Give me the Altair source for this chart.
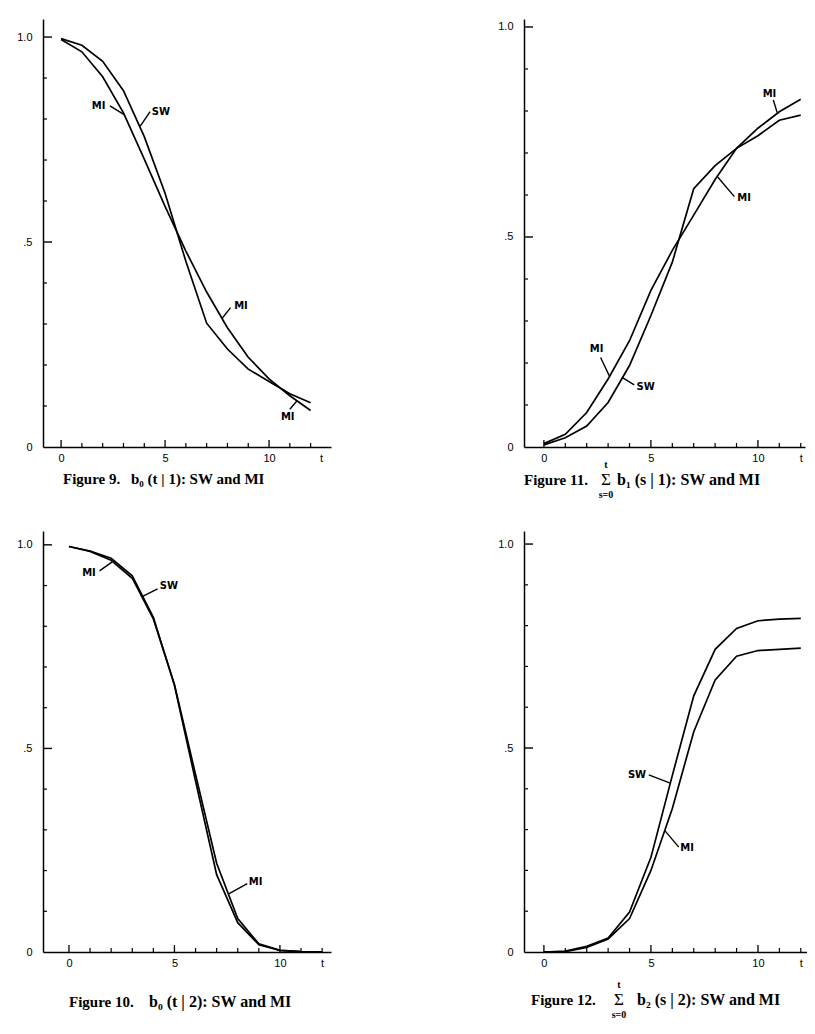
import altair as alt
import pandas as pd

T = list(range(13))

# Figure 9: b0(t|1)
F9_SW = [0.996, 0.980, 0.941, 0.869, 0.757, 0.619, 0.453, 0.302, 0.239, 0.190, 0.160, 0.130, 0.108]
F9_MI = [0.994, 0.964, 0.903, 0.815, 0.702, 0.587, 0.478, 0.378, 0.291, 0.219, 0.166, 0.125, 0.089]

# Figure 11: sum b1(s|1)
F11_SW = [0.005, 0.022, 0.050, 0.106, 0.194, 0.313, 0.440, 0.615, 0.670, 0.711, 0.741, 0.778, 0.790]
F11_MI = [0.008, 0.030, 0.082, 0.162, 0.253, 0.373, 0.468, 0.552, 0.637, 0.711, 0.759, 0.798, 0.828]

# Figure 10: b0(t|2)
F10_SW = [0.996, 0.985, 0.967, 0.924, 0.822, 0.655, 0.420, 0.190, 0.072, 0.018, 0.004, 0.001, 0.0]
F10_MI = [0.996, 0.984, 0.962, 0.918, 0.818, 0.657, 0.436, 0.218, 0.082, 0.020, 0.004, 0.001, 0.0]

# Figure 12: sum b2(s|2)
F12_SW = [0.0, 0.002, 0.014, 0.034, 0.098, 0.232, 0.433, 0.628, 0.742, 0.793, 0.812, 0.816, 0.818]
F12_MI = [0.0, 0.001, 0.011, 0.032, 0.082, 0.200, 0.352, 0.540, 0.667, 0.725, 0.739, 0.742, 0.745]

X_MAJOR = [0, 5, 10]
X_MINOR = [1, 2, 3, 4, 6, 7, 8, 9, 11, 12]
Y_MAJOR = [0.5, 1.0]
Y_MINOR = [0.1, 0.2, 0.3, 0.4, 0.6, 0.7, 0.8, 0.9]
Y_LABELS = [0, 0.5, 1.0]

# curve labels: (text, label t, label v, leader from t, v, leader to t, v)
F9_NOTES = [("MI", 1.8, 0.832, 2.35, 0.832, 3.05, 0.81),
            ("SW", 4.8, 0.818, 4.28, 0.818, 3.8, 0.782),
            ("MI", 8.65, 0.344, 8.15, 0.34, 7.75, 0.314),
            ("MI", 10.9, 0.073, 11.0, 0.092, 11.35, 0.113)]
F11_NOTES = [("MI", 10.54, 0.841, 10.72, 0.826, 10.9, 0.796),
             ("MI", 9.35, 0.592, 8.9, 0.596, 8.12, 0.643),
             ("MI", 2.46, 0.233, 2.65, 0.213, 3.05, 0.17),
             ("SW", 4.75, 0.143, 4.22, 0.148, 3.67, 0.165)]
F10_NOTES = [("MI", 0.95, 0.932, 1.45, 0.936, 2.05, 0.958),
             ("SW", 4.74, 0.898, 4.2, 0.892, 3.47, 0.873),
             ("MI", 8.85, 0.172, 8.45, 0.168, 7.55, 0.142)]
F12_NOTES = [("SW", 4.35, 0.434, 4.9, 0.434, 5.9, 0.414),
             ("MI", 6.69, 0.255, 6.3, 0.257, 5.66, 0.297)]

CAP_9 = ["Figure 9.", "b\u2080 (t | 1): SW and MI"]
CAP_10 = ["Figure 10.", "b\u2080 (t | 2): SW and MI"]
CAP_11 = ["Figure 11.", "b\u2081 (s | 1): SW and MI"]
CAP_12 = ["Figure 12.", "b\u2082 (s | 2): SW and MI"]
SIGMA = ["\u03a3", "t", "s=0"]

AX_FONT = "Liberation Sans"
CAP_FONT = "Liberation Serif"
ONE = pd.DataFrame({"a": [0]})


def txt(s, x, y, size=15, align="left", weight="bold", font=CAP_FONT):
    return alt.Chart(ONE).mark_text(
        font=font, fontSize=size, fontWeight=weight, align=align,
        baseline="middle", color="black"
    ).encode(x=alt.value(x), y=alt.value(y), text=alt.value(s))


def sigma(x, y):
    return [txt(SIGMA[0], x, y, size=17, align="center", weight="normal"),
            txt(SIGMA[1], x, y - 15, size=10, align="center"),
            txt(SIGMA[2], x, y + 15, size=10, align="center")]


def panel(sw, mi, notes, w, h, xdom, ydom, xlab, extra):
    xs = alt.Scale(domain=xdom, nice=False, zero=False)
    ys = alt.Scale(domain=ydom, nice=False, zero=False)
    xaxis = alt.Axis(values=xlab, labelExpr="datum.value >= 12 ? 't' : datum.label",
                     ticks=False, grid=False, title=None, domainColor="black",
                     domainWidth=1.5, labelPadding=5, labelFontSize=11, labelFont=AX_FONT,
                     labelColor="black", labelOverlap=False, labelFlush=False)
    yaxis = alt.Axis(values=Y_LABELS,
                     labelExpr="datum.value == 1 ? '1.0' : (datum.value == 0.5 ? '.5' : '0')",
                     ticks=False, grid=False, title=None, domainColor="black",
                     domainWidth=1.5, labelPadding=11, labelFontSize=11, labelFont=AX_FONT,
                     labelColor="black", labelOverlap=False, labelFlush=False)
    X = lambda f: alt.X(f, scale=xs, axis=xaxis)
    Y = lambda f: alt.Y(f, scale=ys, axis=yaxis)

    df = pd.DataFrame({"t": T * 2, "v": sw + mi, "s": ["SW"] * 13 + ["MI"] * 13})
    lines = alt.Chart(df).mark_line(color="black", strokeWidth=1.7).encode(
        x=X("t:Q"), y=Y("v:Q"), detail="s:N")

    ymaj = alt.Chart(pd.DataFrame({"v": Y_MAJOR})).mark_rule(color="black", strokeWidth=1.4).encode(
        y=Y("v:Q"), x=alt.value(0), x2=alt.value(9))
    ymin = alt.Chart(pd.DataFrame({"v": Y_MINOR})).mark_rule(color="black", strokeWidth=1.2).encode(
        y=Y("v:Q"), x=alt.value(0), x2=alt.value(4))
    xmaj = alt.Chart(pd.DataFrame({"t": X_MAJOR})).mark_rule(color="black", strokeWidth=1.3).encode(
        x=X("t:Q"), y=alt.value(h), y2=alt.value(h - 7))
    xmin = alt.Chart(pd.DataFrame({"t": X_MINOR})).mark_rule(color="black", strokeWidth=1.2).encode(
        x=X("t:Q"), y=alt.value(h), y2=alt.value(h - 4))

    ndf = pd.DataFrame(notes, columns=["txt", "t", "v", "t1", "v1", "t2", "v2"])
    leaders = alt.Chart(ndf).mark_rule(color="black", strokeWidth=1.4).encode(
        x=X("t1:Q"), y=Y("v1:Q"), x2="t2:Q", y2="v2:Q")
    labels = alt.Chart(ndf).mark_text(font="DejaVu Sans", fontWeight="bold", fontSize=10,
                                      color="black").encode(x=X("t:Q"), y=Y("v:Q"), text="txt:N")

    layers = [lines, ymaj, ymin, xmaj, xmin, leaders, labels] + extra
    return alt.layer(*layers).properties(width=w, height=h)


p9 = panel(F9_SW, F9_MI, F9_NOTES, 288, 428, [-0.87, 12.98], [0, 1.044], [0, 5, 10, 12.5],
           [txt(CAP_9[0], 20, 460), txt(CAP_9[1], 88, 460)])
p11 = panel(F11_SW, F11_MI, F11_NOTES, 281, 428, [-0.93, 12.2], [0, 1.019], [0, 5, 10, 12],
            [txt(CAP_11[0], 0, 461)] + sigma(82, 461) + [txt(CAP_11[1], 93, 461, size=16)])
p10 = panel(F10_SW, F10_MI, F10_NOTES, 288, 421, [-1.23, 12.42], [0, 1.034], [0, 5, 10, 12],
            [txt(CAP_10[0], 26, 471), txt(CAP_10[1], 106, 471, size=16)])
p12 = panel(F12_SW, F12_MI, F12_NOTES, 283, 421, [-0.93, 12.29], [0, 1.032], [0, 5, 10, 12],
            [txt(CAP_12[0], 7, 469)] + sigma(95, 469) + [txt(CAP_12[1], 113, 469, size=16)])

chart = alt.concat(p9, p11, p10, p12, columns=2,
                   spacing={"row": 84, "column": 193}, bounds="flush").properties(
    padding={"left": 8, "top": 11, "right": 0, "bottom": 0}
).configure_view(stroke=None)

chart.save("out.html", embed_options={"renderer": "svg", "actions": False})
